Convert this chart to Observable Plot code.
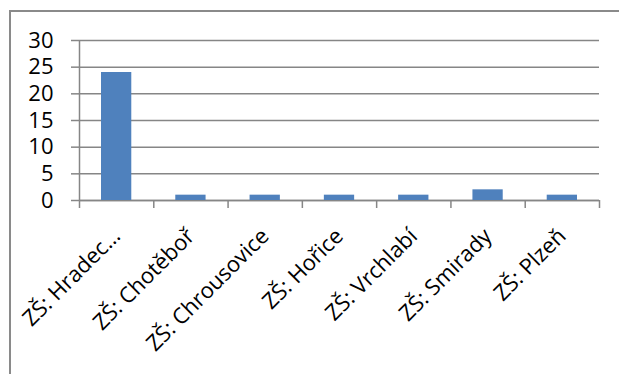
<!DOCTYPE html>
<html>
<head>
<meta charset="utf-8">
<script src="https://cdn.jsdelivr.net/npm/d3@7"></script>
<script src="https://cdn.jsdelivr.net/npm/@observablehq/plot@0.6"></script>
<style>
  html, body { margin: 0; padding: 0; background: #fff; }
  #wrap { position: relative; width: 619px; height: 374px; overflow: hidden; font-family: "Open Sans", sans-serif; }
  #frame { position: absolute; left: 9px; top: 10px; width: 640px; height: 400px; border-top: 2px solid #8a8a8a; border-left: 2px solid #8a8a8a; box-sizing: border-box; }
  #chart { position: absolute; left: 0; top: 0; }
</style>
</head>
<body>
<div id="wrap"><div id="frame"></div><div id="chart"></div></div>
<script>
const categories = ["ZŠ: Hradec…", "ZŠ: Chotěboř", "ZŠ: Chrousovice", "ZŠ: Hořice", "ZŠ: Vrchlabí", "ZŠ: Smirady", "ZŠ: Plzeň"];
const values = [24, 1, 1, 1, 1, 2, 1];
const yTicks = [0, 5, 10, 15, 20, 25, 30];

const data = categories.map((c, i) => ({i, name: c, value: values[i]}));
const boundaries = d3.range(categories.length + 1);
const grey = "#868686";

const chart = Plot.plot({
  width: 619,
  height: 374,
  marginLeft: 79,
  marginRight: 20,
  marginTop: 40,
  marginBottom: 174,
  style: {fontFamily: "'Open Sans', sans-serif", background: "transparent", color: "black"},
  x: {domain: [0, categories.length], axis: null},
  y: {domain: [0, 30], axis: null},
  marks: [
    Plot.gridY(yTicks, {stroke: grey, strokeOpacity: 1, strokeWidth: 1.5}),
    Plot.axisY({ticks: yTicks, label: null, tickSize: 8, tickPadding: 18, stroke: grey, strokeWidth: 1.5, fontSize: 22, fill: "black"}),
    Plot.axisX({ticks: boundaries, label: null, tickSize: 8, tickFormat: () => "", stroke: grey, strokeWidth: 1.5}),
    Plot.ruleX([0], {y1: 0, y2: 30, stroke: grey, strokeWidth: 1.5}),
    Plot.ruleY([0], {stroke: grey, strokeWidth: 1.5}),
    Plot.rectY(data, {x1: d => d.i, x2: d => d.i + 1, y: "value", insetLeft: 22, insetRight: 22, fill: "#4f81bd"}),
    Plot.text(data, {x: d => d.i + 0.5, y: 0, text: "name", rotate: -45, textAnchor: "end", dy: 32, dx: 0, fontSize: 22, fill: "black"})
  ]
});
document.getElementById("chart").appendChild(chart);
</script>
</body>
</html>
